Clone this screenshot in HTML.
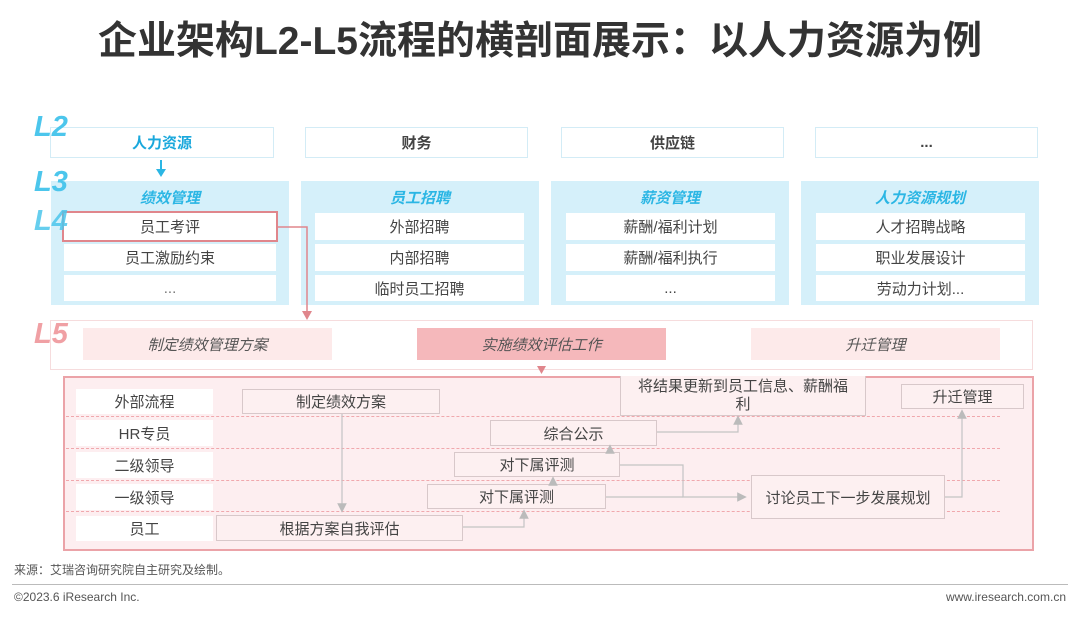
<!DOCTYPE html>
<html><head><meta charset="utf-8"><style>
body{margin:0;width:1080px;height:619px;background:#fff;position:relative;overflow:hidden;font-family:"Liberation Sans","Noto Sans CJK SC",sans-serif;color:#444}
.a{position:absolute;box-sizing:border-box;display:flex;align-items:center;justify-content:center;text-align:center}
.lv{position:absolute;z-index:5;font-style:italic;font-weight:bold;font-size:29px;font-family:"Liberation Sans",sans-serif}
.l2{border:1px solid #d3ecf6;background:#fff;font-size:15px;font-weight:bold;color:#444}
.p3{background:#d5f0fa}
.h3{color:#2bb6e4;font-style:italic;font-weight:bold;font-size:15px}
.it{background:#fff;font-size:15px;color:#444}
.l5{font-style:italic;color:#555;font-size:15px;background:#fdeaea}
.lane{background:#fff;font-size:15px;color:#444}
.pb{border:1px solid #d8c8ca;background:#fdf0f1;font-size:15px;color:#444}
.dash{position:absolute;left:66px;width:934px;border-top:1px dashed #f0a8ad}
</style></head><body>
<div class="a" style="left:0;top:10px;width:1080px;height:56px;font-size:39px;font-weight:bold;color:#333">企业架构L2-L5流程的横剖面展示：以人力资源为例</div>

<div class="a l2" style="left:50px;top:127px;width:224px;height:31px;color:#1aa8dc">人力资源</div>
<div class="a l2" style="left:305px;top:127px;width:223px;height:31px">财务</div>
<div class="a l2" style="left:561px;top:127px;width:223px;height:31px">供应链</div>
<div class="a l2" style="left:815px;top:127px;width:223px;height:31px">...</div>

<div class="a p3" style="left:51px;top:181px;width:238px;height:124px"></div>
<div class="a p3" style="left:301px;top:181px;width:238px;height:124px"></div>
<div class="a p3" style="left:551px;top:181px;width:238px;height:124px"></div>
<div class="a p3" style="left:801px;top:181px;width:238px;height:124px"></div>

<div class="a h3" style="left:51px;top:186px;width:238px;height:22px">绩效管理</div>
<div class="a h3" style="left:301px;top:186px;width:238px;height:22px">员工招聘</div>
<div class="a h3" style="left:551px;top:186px;width:238px;height:22px">薪资管理</div>
<div class="a h3" style="left:801px;top:186px;width:238px;height:22px">人力资源规划</div>

<div class="a it" style="left:64px;top:213px;width:212px;height:27px">员工考评</div>
<div class="a it" style="left:64px;top:244px;width:212px;height:27px">员工激励约束</div>
<div class="a it" style="left:64px;top:275px;width:212px;height:26px;color:#777">...</div>
<div class="a it" style="left:315px;top:213px;width:209px;height:27px">外部招聘</div>
<div class="a it" style="left:315px;top:244px;width:209px;height:27px">内部招聘</div>
<div class="a it" style="left:315px;top:275px;width:209px;height:26px">临时员工招聘</div>
<div class="a it" style="left:566px;top:213px;width:209px;height:27px">薪酬/福利计划</div>
<div class="a it" style="left:566px;top:244px;width:209px;height:27px">薪酬/福利执行</div>
<div class="a it" style="left:566px;top:275px;width:209px;height:26px">...</div>
<div class="a it" style="left:816px;top:213px;width:209px;height:27px">人才招聘战略</div>
<div class="a it" style="left:816px;top:244px;width:209px;height:27px">职业发展设计</div>
<div class="a it" style="left:816px;top:275px;width:209px;height:26px">劳动力计划...</div>
<div class="a" style="left:62px;top:211px;width:216px;height:31px;border:2px solid #e0868c"></div>

<div class="a" style="left:50px;top:320px;width:983px;height:50px;border:1px solid #f6dcdd"></div>
<div class="a l5" style="left:83px;top:328px;width:249px;height:32px">制定绩效管理方案</div>
<div class="a l5" style="left:417px;top:328px;width:249px;height:32px;background:#f5b8bb">实施绩效评估工作</div>
<div class="a l5" style="left:751px;top:328px;width:249px;height:32px">升迁管理</div>

<div class="lv" style="left:34px;top:111px;color:#4cc6ec">L2</div>
<div class="lv" style="left:34px;top:166px;color:#4cc6ec">L3</div>
<div class="lv" style="left:34px;top:205px;color:#4cc6ec;opacity:.85">L4</div>
<div class="lv" style="left:34px;top:318px;color:#f0a0a4">L5</div>

<div class="a" style="left:63px;top:376px;width:971px;height:175px;background:#fdeef0;border:2px solid #eba3a8"></div>
<div class="dash" style="top:416px"></div>
<div class="dash" style="top:448px"></div>
<div class="dash" style="top:480px"></div>
<div class="dash" style="top:511px"></div>
<div class="a lane" style="left:76px;top:389px;width:137px;height:25px">外部流程</div>
<div class="a lane" style="left:76px;top:420px;width:137px;height:26px">HR专员</div>
<div class="a lane" style="left:76px;top:452px;width:137px;height:26px">二级领导</div>
<div class="a lane" style="left:76px;top:484px;width:137px;height:26px">一级领导</div>
<div class="a lane" style="left:76px;top:516px;width:137px;height:25px">员工</div>

<div class="a pb" style="left:242px;top:389px;width:198px;height:25px">制定绩效方案</div>
<div class="a pb" style="left:216px;top:515px;width:247px;height:26px">根据方案自我评估</div>
<div class="a pb" style="left:427px;top:484px;width:179px;height:25px">对下属评测</div>
<div class="a pb" style="left:454px;top:452px;width:166px;height:25px">对下属评测</div>
<div class="a pb" style="left:490px;top:420px;width:167px;height:26px">综合公示</div>
<div class="a pb" style="left:620px;top:376px;width:246px;height:40px;line-height:18px;border-top:none">将结果更新到员工信息、薪酬福<br>利</div>
<div class="a pb" style="left:901px;top:384px;width:123px;height:25px">升迁管理</div>
<div class="a pb" style="left:751px;top:475px;width:194px;height:44px">讨论员工下一步发展规划</div>

<svg style="position:absolute;left:0;top:0" width="1080" height="619">
<defs>
<marker id="g" markerWidth="8" markerHeight="8" refX="4" refY="4" orient="auto"><path d="M0,0L8,4L0,8z" fill="#bbb"/></marker>
</defs>
<line x1="161" y1="160" x2="161" y2="170" stroke="#2bb6e4" stroke-width="2"/>
<path d="M156,169L166,169L161,177z" fill="#2bb6e4"/>
<polyline points="278,227 307,227 307,312" fill="none" stroke="#e0868c" stroke-width="1.5"/>
<path d="M302,311L312,311L307,320z" fill="#e0868c"/>
<path d="M537,366L546,366L541.5,374z" fill="#e0868c"/>
<g fill="none" stroke="#c4c4c4" stroke-width="1.2">
<line x1="342" y1="414" x2="342" y2="508" marker-end="url(#g)"/>
<polyline points="463,527 524,527 524,514" marker-end="url(#g)"/>
<line x1="553" y1="484" x2="553" y2="481" marker-end="url(#g)"/>
<line x1="610" y1="452" x2="610" y2="449" marker-end="url(#g)"/>
<polyline points="657,432 738,432 738,420" marker-end="url(#g)"/>
<polyline points="620,465 683,465 683,497 742,497" marker-end="url(#g)"/>
<line x1="606" y1="497" x2="683" y2="497"/>
<polyline points="945,497 962,497 962,414" marker-end="url(#g)"/>
</g>
</svg>

<div style="position:absolute;left:14px;top:561px;font-size:12px;color:#555">来源：艾瑞咨询研究院自主研究及绘制。</div>
<div style="position:absolute;left:12px;top:584px;width:1056px;border-top:1px solid #bbb"></div>
<div style="position:absolute;left:14px;top:590px;font-size:12px;color:#555">©2023.6 iResearch Inc.</div>
<div style="position:absolute;right:14px;top:590px;font-size:12px;color:#555">www.iresearch.com.cn</div>
</body></html>
